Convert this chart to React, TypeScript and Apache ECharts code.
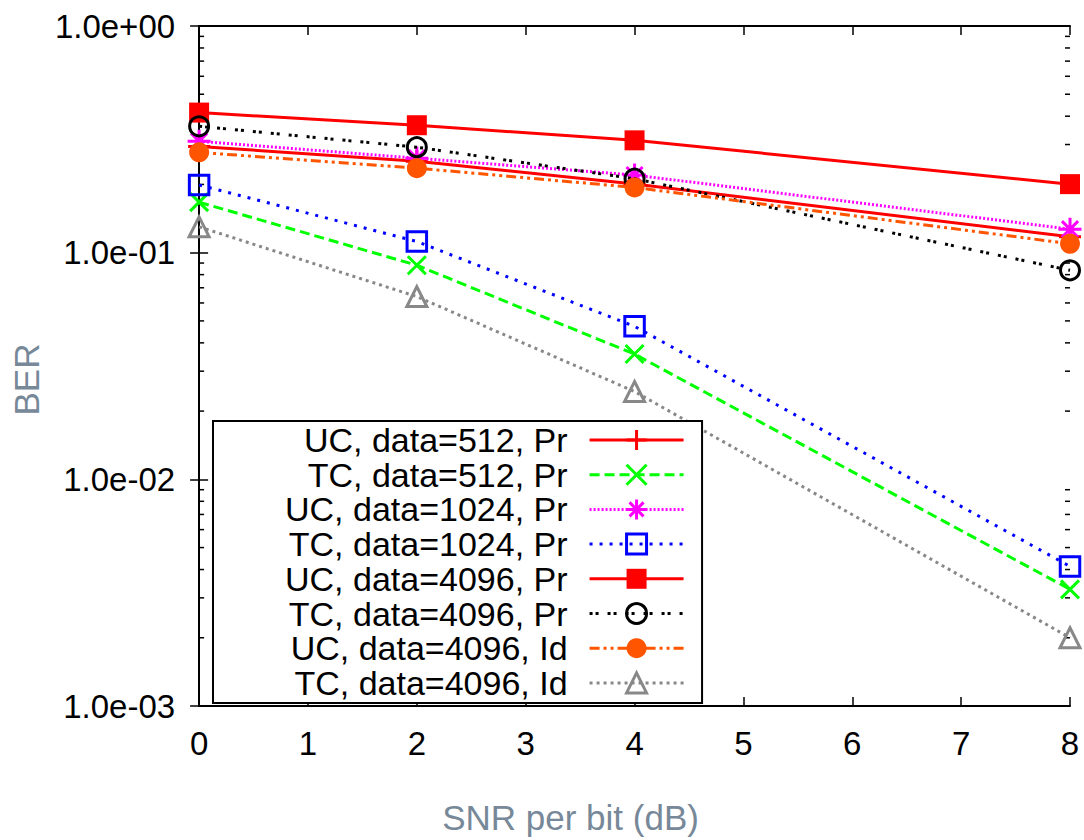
import React, { useEffect, useRef } from 'react';
import * as echarts from 'echarts';

// ---- data ----
const snr = [0, 2, 4, 8];
const seriesNames = [
  'UC, data=512, Pr',
  'TC, data=512, Pr',
  'UC, data=1024, Pr',
  'TC, data=1024, Pr',
  'UC, data=4096, Pr',
  'TC, data=4096, Pr',
  'UC, data=4096, Id',
  'TC, data=4096, Id',
];
const uc512Pr = [0.294, 0.253, 0.201, 0.1175];
const tc512Pr = [0.167, 0.088, 0.0357, 0.00327];
const uc1024Pr = [0.31, 0.261, 0.22, 0.127];
const tc1024Pr = [0.199, 0.112, 0.0473, 0.00413];
const uc4096Pr = [0.415, 0.365, 0.313, 0.2006];
const tc4096Pr = [0.361, 0.292, 0.212, 0.0836];
const uc4096Id = [0.277, 0.236, 0.194, 0.1095];
const tc4096Id = [0.13, 0.064, 0.0244, 0.002];
const seriesValues = [uc512Pr, tc512Pr, uc1024Pr, tc1024Pr, uc4096Pr, tc4096Pr, uc4096Id, tc4096Id];

const xTickLabels = ['0', '1', '2', '3', '4', '5', '6', '7', '8'];
const yTickLabels = ['1.0e-03', '1.0e-02', '1.0e-01', '1.0e+00'];
const minorMantissas = [2, 3, 4, 5, 6, 7, 8, 9];
const minorDecades = [0.001, 0.01, 0.1];

// ---- styles ----
const PLUS = 'path://M10,0L10,20M0,10L20,10';
const CROSS = 'path://M0,0L18,18M18,0L0,18';
const STAR = 'path://M10,0L10,20M0,10L20,10M3,3L17,17M17,3L3,17';
const seriesStyles = [
  { color: '#ff0000', dash: 'solid', symbol: PLUS, size: 22, fill: 'rgba(0,0,0,0)', bw: 3 },
  { color: '#00ff00', dash: [10, 5], symbol: CROSS, size: 18, fill: 'rgba(0,0,0,0)', bw: 3 },
  { color: '#ff00ff', dash: [2, 2], symbol: STAR, size: 23, fill: 'rgba(0,0,0,0)', bw: 3 },
  { color: '#0000ff', dash: [3, 7], symbol: 'rect', size: 19.5, fill: 'rgba(0,0,0,0)', bw: 3 },
  { color: '#ff0000', dash: 'solid', symbol: 'rect', size: 20, fill: '#ff0000', bw: 0 },
  { color: '#000000', dash: [3, 3, 3, 9], symbol: 'circle', size: 19, fill: 'rgba(0,0,0,0)', bw: 3 },
  { color: '#ff5500', dash: [10, 4, 3, 4, 3, 4], symbol: 'circle', size: 20, fill: '#ff5500', bw: 0 },
  { color: '#888888', dash: [3, 4], symbol: 'triangle', size: 20, fill: 'rgba(0,0,0,0)', bw: 3 },
];

const FONT = '"Liberation Sans", Arial, Helvetica, sans-serif';

export default function App() {
  const ref = useRef<HTMLDivElement>(null);
  useEffect(() => {
    if (!ref.current) return;
    const chart = echarts.init(ref.current, null, { renderer: 'svg' });

    const minorTicks: number[][] = [];
    minorDecades.forEach((d) => minorMantissas.forEach((m) => minorTicks.push([0, m * d])));

    const lineSeries = seriesNames.map((name, i) => {
      const s = seriesStyles[i];
      return {
        type: 'line',
        name,
        data: snr.map((x, j) => [x, seriesValues[i][j]]),
        symbol: s.symbol,
        symbolSize: s.size,
        showSymbol: true,
        lineStyle: { color: s.color, width: 3, type: s.dash },
        itemStyle: { color: s.fill, borderColor: s.color, borderWidth: s.bw },
        emphasis: { disabled: true },
        z: 2 + i * 0.01,
      };
    });

    const option: any = {
      animation: false,
      textStyle: { fontFamily: FONT },
      grid: { left: 193, right: 14, top: 26, bottom: 129 },
      xAxis: [
        {
          type: 'value',
          position: 'bottom',
          min: 0,
          max: 8,
          interval: 1,
          name: 'SNR per bit (dB)',
          nameLocation: 'middle',
          nameGap: 93,
          nameTextStyle: { fontSize: 35, lineHeight: 36, color: '#778899', fontFamily: FONT, padding: [0, 128, 0, 0] },
          axisLine: { show: true, lineStyle: { color: '#000', width: 2 } },
          axisTick: { show: true, inside: true, length: 9, lineStyle: { color: '#000', width: 1.5 } },
          axisLabel: {
            show: true,
            fontSize: 33,
            lineHeight: 36,
            margin: 19,
            color: '#000',
            fontFamily: FONT,
            formatter: (v: number) => xTickLabels[Math.round(v)] ?? String(v),
          },
          splitLine: { show: false },
        },
        {
          type: 'value',
          position: 'top',
          min: 0,
          max: 8,
          interval: 1,
          axisLine: { show: true, lineStyle: { color: '#000', width: 2 } },
          axisTick: { show: true, inside: true, length: 9, lineStyle: { color: '#000', width: 1.5 } },
          axisLabel: { show: false },
          splitLine: { show: false },
        },
      ],
      yAxis: [
        {
          type: 'log',
          logBase: 10,
          position: 'left',
          min: 0.001,
          max: 1,
          name: 'BER',
          nameLocation: 'middle',
          nameGap: 143,
          nameTextStyle: { fontSize: 35, lineHeight: 36, color: '#778899', fontFamily: FONT, padding: [0, 27, 0, 0] },
          axisLine: { show: true, lineStyle: { color: '#000', width: 2 } },
          axisTick: { show: true, inside: true, length: 9, lineStyle: { color: '#000', width: 1.5 } },
          axisLabel: {
            show: true,
            fontSize: 33,
            margin: 24,
            color: '#000',
            fontFamily: FONT,
            formatter: (v: number) => yTickLabels[Math.round(Math.log10(v)) + 3] ?? String(v),
          },
          splitLine: { show: false },
        },
        {
          type: 'log',
          logBase: 10,
          position: 'right',
          min: 0.001,
          max: 1,
          axisLine: { show: true, lineStyle: { color: '#000', width: 2 } },
          axisTick: { show: true, inside: true, length: 9, lineStyle: { color: '#000', width: 1.5 } },
          axisLabel: { show: false },
          splitLine: { show: false },
        },
      ],
      legend: {
        show: true,
        orient: 'vertical',
        align: 'right',
        left: 213,
        top: 421,
        padding: [2, 17, 3, 72],
        itemWidth: 94,
        itemHeight: 25,
        itemGap: 0.7,
        borderColor: '#000',
        borderWidth: 2,
        borderRadius: 0,
        backgroundColor: '#ffffff',
        selectedMode: false,
        textStyle: { fontSize: 34, color: '#000', fontFamily: FONT, padding: [0, 17, 0, 0] },
        data: seriesNames.map((name, i) => {
          const s = seriesStyles[i];
          return {
            name,
            itemStyle: { color: s.fill, borderColor: s.color, borderWidth: s.bw },
            lineStyle: { color: s.color, width: 3, type: s.dash },
          };
        }),
        z: 10,
      },
      series: [
        {
          type: 'custom',
          name: '_minorTicks',
          silent: true,
          xAxisIndex: 0,
          yAxisIndex: 0,
          data: minorTicks,
          z: 1,
          renderItem: (_params: any, api: any) => {
            const v = api.value(1);
            const a = api.coord([0, v]);
            const b = api.coord([8, v]);
            return {
              type: 'group',
              children: [
                { type: 'line', shape: { x1: a[0], y1: a[1], x2: a[0] + 5, y2: a[1] }, style: { stroke: '#000', lineWidth: 1.5 } },
                { type: 'line', shape: { x1: b[0] - 5, y1: b[1], x2: b[0], y2: b[1] }, style: { stroke: '#000', lineWidth: 1.5 } },
              ],
            };
          },
        },
        ...lineSeries,
      ],
    };

    chart.setOption(option);
    return () => chart.dispose();
  }, []);

  return (
    <div
      ref={ref}
      style={{ position: 'fixed', left: 0, top: 0, width: 1084, height: 840, background: '#fff' }}
    />
  );
}
